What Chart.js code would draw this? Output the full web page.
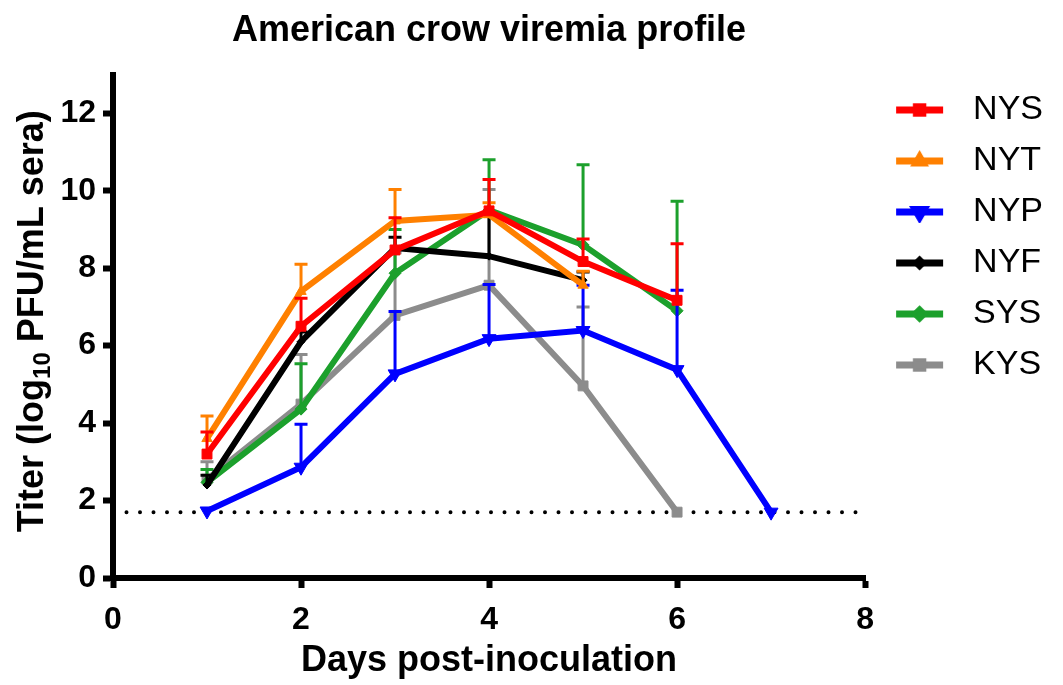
<!DOCTYPE html>
<html><head><meta charset="utf-8">
<script src="https://cdn.jsdelivr.net/npm/chart.js@4"></script>
<style>html,body{margin:0;padding:0;background:#fff}#wrap{width:1063px;height:685px}</style>
</head><body><div id="wrap"><canvas id="c" width="1063" height="685"></canvas></div>
<script>
// ---- data ----
const days = [1, 2, 3, 4, 5, 6, 7];
const seriesNames = ['NYS', 'NYT', 'NYP', 'NYF', 'SYS', 'KYS'];
const nysTiter = [3.20, 6.50, 8.47, 9.48, 8.17, 7.17];
const nysUpper = [3.77, 7.22, 9.30, 10.29, 8.75, 8.63];
const nytTiter = [3.60, 7.40, 9.22, 9.38, 7.56];
const nytUpper = [4.18, 8.10, 10.03, 9.69, 7.92];
const nypTiter = [1.73, 2.86, 5.27, 6.18, 6.39, 5.38, 1.70];
const nypUpper = [null, 3.97, 6.88, 7.58, 7.56, 7.43, null];
const nyfTiter = [2.40, 6.10, 8.52, 8.31, 7.69];
const nyfUpper = [2.65, 6.35, 8.80, 9.40, 7.90];
const sysTiter = [2.47, 4.36, 7.87, 9.50, 8.60, 6.90];
const sysUpper = [2.80, 5.53, 9.00, 10.80, 10.67, 9.73];
const kysTiter = [2.55, 4.49, 6.78, 7.56, 4.96, 1.70];
const kysUpper = [3.00, 5.77, 8.40, 10.03, 7.00, null];
const detectionLimit = 1.7;
const xTickValues = [0, 2, 4, 6, 8];
const yTickValues = [0, 2, 4, 6, 8, 10, 12];

// ---- styles ----
const FONT = "'Liberation Sans', Arial, sans-serif";
const styles = [
  {color: '#ff0000', shape: 'rect', r: 7, rot: 0},
  {color: '#ff8000', shape: 'triangle', r: 6, rot: 0},
  {color: '#0000ff', shape: 'triangle', r: 8, rot: 180},
  {color: '#000000', shape: 'rectRot', r: 4, rot: 0},
  {color: '#1ca02c', shape: 'rectRot', r: 6, rot: 0},
  {color: '#8c8c8c', shape: 'rect', r: 7, rot: 0}
];
const titers = [nysTiter, nytTiter, nypTiter, nyfTiter, sysTiter, kysTiter];
const uppers = [nysUpper, nytUpper, nypUpper, nyfUpper, sysUpper, kysUpper];

function toPoints(vals) { return vals.map((v, i) => ({x: days[i], y: v})); }

function makeIcon(st) {
  const cv = document.createElement('canvas');
  cv.width = 74; cv.height = 22;
  const g = cv.getContext('2d');
  g.strokeStyle = st.color; g.fillStyle = st.color; g.lineWidth = 7;
  g.beginPath(); g.moveTo(14, 11); g.lineTo(61, 11); g.stroke();
  Chart.helpers.drawPoint(g, {pointStyle: st.shape, radius: st.r * 0.65, rotation: st.rot, borderWidth: 1}, 37.5, 11);
  g.fill();
  return cv;
}

const datasets = seriesNames.map((name, i) => ({
  label: name,
  data: toPoints(titers[i]),
  upper: uppers[i],
  borderColor: styles[i].color,
  backgroundColor: styles[i].color,
  borderWidth: 6,
  pointStyle: styles[i].shape,
  pointRadius: styles[i].r,
  pointRotation: styles[i].rot,
  pointBorderWidth: 1,
  tension: 0
}));
datasets.push({
  label: 'LOD',
  data: [{x: 0, y: detectionLimit}, {x: 8, y: detectionLimit}],
  borderColor: '#000',
  borderWidth: 4,
  borderDash: [0, 13.5],
  borderCapStyle: 'round',
  pointRadius: 0
});

const errorBars = {
  id: 'errorBars',
  beforeDatasetDraw(chart, args) {
    const ds = chart.data.datasets[args.index];
    if (!ds.upper) return;
    const ctx = chart.ctx, ys = chart.scales.y;
    ctx.save();
    ctx.strokeStyle = ds.borderColor; ctx.lineWidth = 3; ctx.lineCap = 'butt';
    args.meta.data.forEach((pt, i) => {
      const up = ds.upper[i];
      if (up == null) return;
      const yt = ys.getPixelForValue(up);
      ctx.beginPath();
      ctx.moveTo(pt.x, pt.y); ctx.lineTo(pt.x, yt);
      ctx.moveTo(pt.x - 6.5, yt); ctx.lineTo(pt.x + 6.5, yt);
      ctx.stroke();
    });
    ctx.restore();
  }
};

const yTitle = {
  id: 'yTitle',
  afterDraw(chart) {
    const ctx = chart.ctx, a = chart.chartArea;
    const big = 'bold 36px ' + FONT, small = 'bold 24px ' + FONT;
    const p1 = 'Titer (log', p2 = '10', p3 = ' PFU/mL sera)';
    ctx.save();
    ctx.font = big; const w1 = ctx.measureText(p1).width, w3 = ctx.measureText(p3).width;
    ctx.font = small; const w2 = ctx.measureText(p2).width;
    const total = w1 + w2 + w3;
    ctx.translate(33, (a.top + a.bottom) / 2 - 5);
    ctx.rotate(-Math.PI / 2);
    ctx.fillStyle = '#000'; ctx.textBaseline = 'middle'; ctx.textAlign = 'left';
    let x = -total / 2;
    ctx.font = big; ctx.fillText(p1, x, 0); x += w1;
    ctx.font = small; ctx.fillText(p2, x, 10); x += w2;
    ctx.font = big; ctx.fillText(p3, x, 0);
    ctx.restore();
  }
};

const icons = styles.map(makeIcon);

new Chart(document.getElementById('c'), {
  type: 'line',
  data: {datasets},
  plugins: [errorBars, yTitle],
  options: {
    responsive: false,
    animation: false,
    layout: {padding: {left: 0, right: 10, top: 0, bottom: 0}},
    plugins: {
      tooltip: {enabled: false},
      title: {
        display: true, text: 'American crow viremia profile', color: '#000',
        fullSize: false,
        font: {family: FONT, size: 36, weight: 'bold'},
        padding: {top: 9, bottom: 22.3}
      },
      legend: {
        position: 'right', align: 'start',
        title: {display: true, text: '', font: {size: 10}, padding: {top: 64, bottom: 0}},
        labels: {
          usePointStyle: true, pointStyleWidth: 74, padding: 17, color: '#000',
          font: {family: FONT, size: 34},
          generateLabels() {
            return seriesNames.map((n, i) => ({
              text: n, pointStyle: icons[i], fillStyle: styles[i].color, fontColor: '#000',
              strokeStyle: styles[i].color, lineWidth: 0, hidden: false, datasetIndex: i
            }));
          }
        }
      }
    },
    scales: {
      x: {
        type: 'linear', min: 0, max: 8,
        afterFit(s) { s.height = 107; },
        afterBuildTicks(s) { s.ticks = xTickValues.map(v => ({value: v})); },
        border: {display: true, color: '#000', width: 6},
        grid: {drawOnChartArea: false, drawTicks: true, tickLength: 10, tickWidth: 6, tickColor: '#000'},
        ticks: {color: '#000', padding: 13, font: {family: FONT, size: 32, weight: 'bold'}},
        title: {display: true, text: 'Days post-inoculation', color: '#000',
          font: {family: FONT, size: 36, weight: 'bold'}, padding: {top: 0, bottom: 2}}
      },
      y: {
        type: 'linear', min: 0, max: 13,
        afterFit(s) { s.width = 113; },
        afterBuildTicks(s) { s.ticks = yTickValues.map(v => ({value: v})); },
        border: {display: true, color: '#000', width: 6},
        grid: {drawOnChartArea: false, drawTicks: true, tickLength: 10, tickWidth: 6, tickColor: '#000'},
        ticks: {color: '#000', padding: 7, font: {family: FONT, size: 32, weight: 'bold'}}
      }
    }
  }
});
</script>
</body></html>
